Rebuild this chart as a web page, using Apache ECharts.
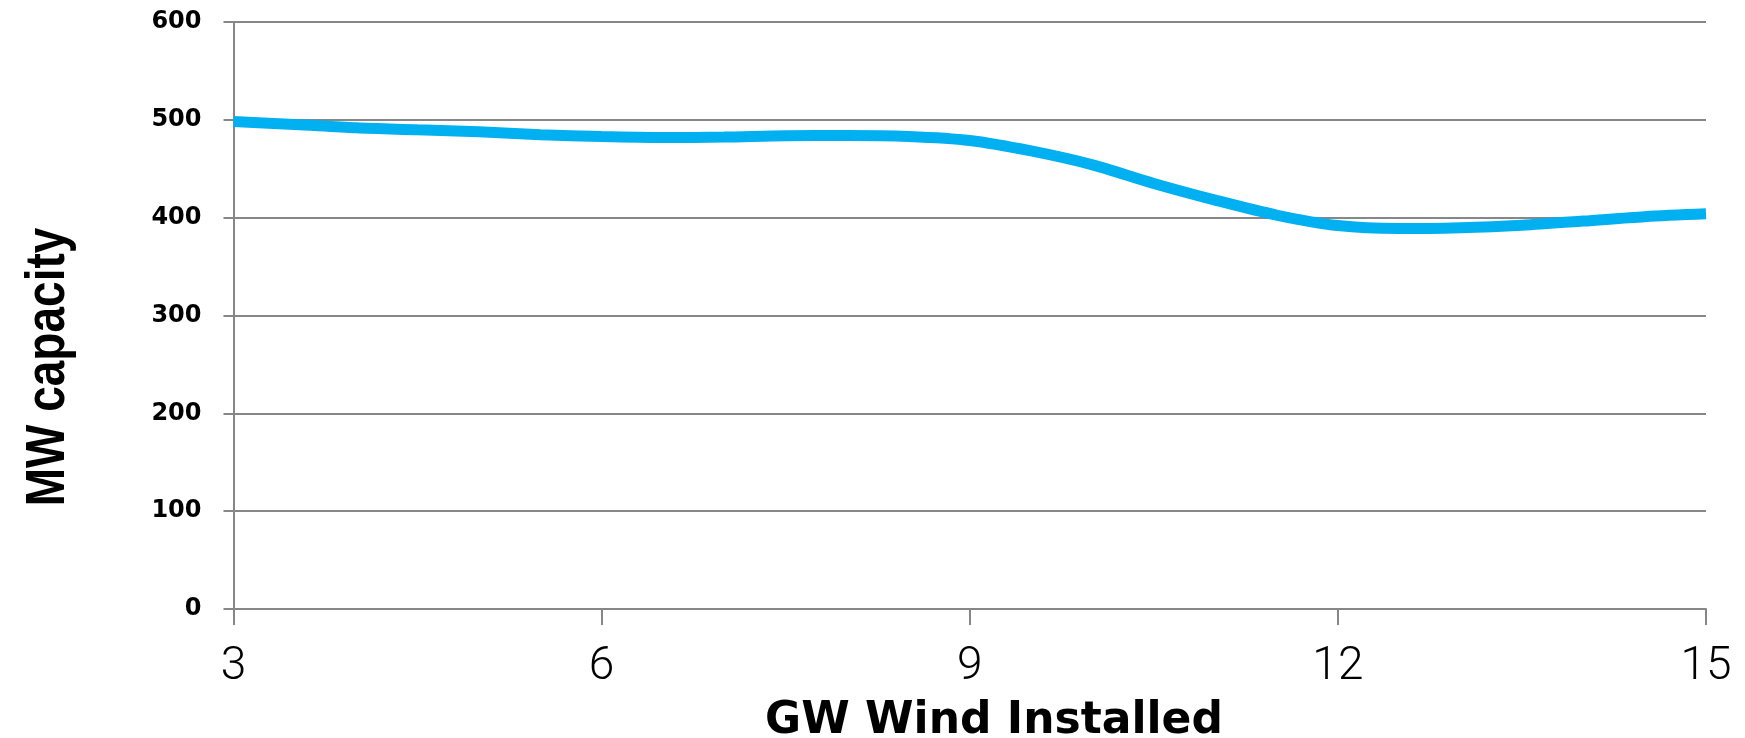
<!DOCTYPE html>
<html>
<head>
<meta charset="utf-8">
<script src="https://cdn.jsdelivr.net/npm/echarts@6/dist/echarts.min.js"></script>
<style>
html,body{margin:0;padding:0;background:#fff;}
#chart{width:1745px;height:738px;}
</style>
</head>
<body>
<div id="chart"></div>
<script>
// Data (GW installed vs MW capacity)
var gwInstalled = [3, 3.5, 4, 4.5, 5, 5.5, 6, 6.5, 7, 7.5, 8, 8.5, 9, 9.5, 10, 10.5, 11, 11.5, 12, 12.5, 13, 13.5, 14, 14.5, 15];
var mwCapacity = [498.3, 495.2, 491.8, 489.8, 487.7, 484.8, 482.9, 481.9, 482.4, 483.8, 484, 483, 478.9, 468.2, 454, 435, 418, 402.7, 391.9, 388.9, 389.8, 392.3, 396.5, 401, 403.9];
var xTicks = [3, 6, 9, 12, 15];
var yTicks = [0, 100, 200, 300, 400, 500, 600];
var xTitle = 'GW Wind Installed';
var yTitle = 'MW capacity';

var chart = echarts.init(document.getElementById('chart'), null, {renderer: 'canvas'});
var pts = gwInstalled.map(function (x, i) { return [x, mwCapacity[i]]; });

chart.setOption({
  animation: false,
  backgroundColor: '#ffffff',
  grid: {left: 233.5, right: 39, top: 22, bottom: 129, containLabel: false},
  xAxis: {
    type: 'value', min: xTicks[0], max: xTicks[xTicks.length - 1], interval: xTicks[1] - xTicks[0],
    axisLine: {show: true, lineStyle: {color: '#878787', width: 2}},
    axisTick: {show: true, length: 16, lineStyle: {color: '#878787', width: 2}},
    splitLine: {show: false},
    axisLabel: {margin: 35, color: '#000', fontFamily: 'Roboto', fontWeight: 300, fontSize: 46}
  },
  yAxis: {
    type: 'value', min: yTicks[0], max: yTicks[yTicks.length - 1], interval: yTicks[1] - yTicks[0],
    axisLine: {show: true, lineStyle: {color: '#878787', width: 2}},
    axisTick: {show: true, length: 10, lineStyle: {color: '#878787', width: 2}},
    splitLine: {show: true, lineStyle: {color: '#878787', width: 2}},
    axisLabel: {margin: 32, color: '#000', fontFamily: 'DejaVu Sans', fontWeight: 'bold', fontSize: 24}
  },
  graphic: [
    {type: 'text', x: 994, y: 722, style: {text: xTitle, fill: '#000', font: 'bold 44px "DejaVu Sans"', align: 'center', verticalAlign: 'middle'}},
    {type: 'text', x: 49, y: 367, rotation: Math.PI / 2, scaleY: 1.2, style: {text: yTitle, fill: '#000', font: 'bold 46px "Liberation Sans"', align: 'center', verticalAlign: 'middle'}}
  ],
  series: [{
    type: 'line', data: pts, smooth: 0.3, showSymbol: false, symbol: 'none',
    lineStyle: {color: '#00B0F0', width: 11, cap: 'butt'}
  }]
});
</script>
</body>
</html>
